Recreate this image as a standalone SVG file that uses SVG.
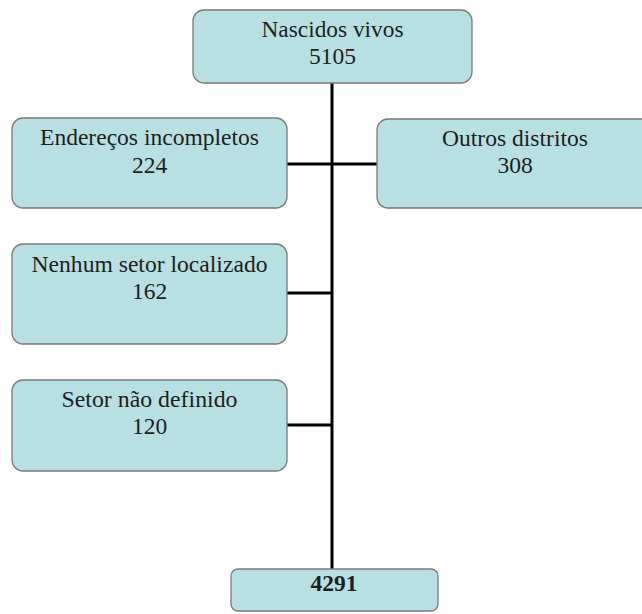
<svg xmlns="http://www.w3.org/2000/svg" width="642" height="614" viewBox="0 0 642 614">
<style>
.box{fill:#b8e0e3;stroke:#7a7a7a;stroke-width:1.3}
.t{font-family:'Liberation Serif','Times New Roman',Tinos,'DejaVu Serif',serif;font-size:23.5px;fill:#1e1e1e;text-anchor:middle}
.b{font-weight:bold}
.c{stroke:#000;stroke-width:3;fill:none}
</style>
<rect width="642" height="614" fill="#fff"/>
<g id="connectors">
<line class="c" x1="332" y1="83" x2="332" y2="569"/>
<line class="c" x1="287" y1="164" x2="377" y2="164"/>
<line class="c" x1="287" y1="293" x2="332" y2="293"/>
<line class="c" x1="287" y1="425" x2="332" y2="425"/>
</g>
<g id="nascidos">
<rect class="box" x="193" y="10" width="279" height="73" rx="11"/>
<text class="t" x="332.5" y="36.5" textLength="142" lengthAdjust="spacingAndGlyphs">Nascidos vivos</text>
<text class="t" x="332.5" y="63.5">5105</text>
</g>
<g id="enderecos">
<rect class="box" x="12" y="118" width="275" height="90" rx="11"/>
<text class="t" x="149.5" y="145" textLength="219" lengthAdjust="spacingAndGlyphs">Endereços incompletos</text>
<text class="t" x="149.5" y="173">224</text>
</g>
<g id="outros">
<rect class="box" x="377" y="119" width="276" height="89" rx="11"/>
<text class="t" x="515" y="146" textLength="146" lengthAdjust="spacingAndGlyphs">Outros distritos</text>
<text class="t" x="515" y="173">308</text>
</g>
<g id="nenhum">
<rect class="box" x="12" y="244" width="275" height="100" rx="11"/>
<text class="t" x="149.5" y="271.5" textLength="236" lengthAdjust="spacingAndGlyphs">Nenhum setor localizado</text>
<text class="t" x="149.5" y="299">162</text>
</g>
<g id="setor">
<rect class="box" x="12" y="380" width="275" height="91" rx="11"/>
<text class="t" x="149.5" y="407" textLength="176" lengthAdjust="spacingAndGlyphs">Setor não definido</text>
<text class="t" x="149.5" y="434">120</text>
</g>
<g id="total">
<rect class="box" x="231" y="569" width="207" height="42" rx="7"/>
<text class="t b" x="334" y="591">4291</text>
</g>
</svg>
